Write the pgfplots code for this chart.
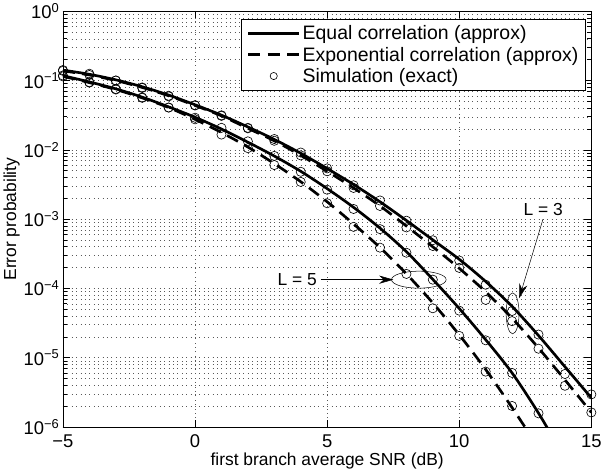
\documentclass[border=0pt]{standalone}
\usepackage{fontspec}
\setmainfont{Liberation Sans}
\usepackage{pgfplots}
\pgfplotsset{compat=1.18}
\usetikzlibrary{arrows.meta}

\begin{document}
\begin{tikzpicture}
\begin{axis}[
  scale only axis,
  width=516pt, height=406pt,
  xmin=-5, xmax=15,
  ymode=log, ymin=1e-6, ymax=1,
  xtick={-5,0,5,10,15},
  xticklabels={−5,0,5,10,15},
  ytick={1e-6,1e-5,1e-4,1e-3,1e-2,1e-1,1},
  yticklabels={10\textsuperscript{−6},10\textsuperscript{−5},10\textsuperscript{−4},10\textsuperscript{−3},10\textsuperscript{−2},10\textsuperscript{−1},10\textsuperscript{0}},
  xmajorgrids, ymajorgrids, yminorgrids,
  major grid style={black!65, line width=0.45pt, dash pattern=on 0.7pt off 3.6pt},
  minor grid style={black!65, line width=0.45pt, dash pattern=on 0.7pt off 3.6pt},
  axis line style={black, line width=0.8pt},
  tick style={black, line width=0.6pt},
  major tick length=7pt, minor tick length=4pt,
  tick label style={font=\fontsize{18}{21}\selectfont},
  xticklabel style={yshift=-4pt},
  label style={font=\fontsize{17}{20}\selectfont},
  xlabel={first branch average SNR (dB)},
  ylabel={Error probability},
  xlabel style={yshift=2pt},
  ylabel style={yshift=-3pt},
  legend cell align=left,
  legend image code/.code={\draw[mark repeat=2,mark phase=2,#1] plot coordinates {(0pt,0pt) (25pt,0pt) (50pt,0pt)};},
  legend style={at={(rel axis cs:0.99,0.981)}, anchor=north east,
    font=\fontsize{19}{22}\selectfont, draw=black, line width=0.8pt,
    fill=white, row sep=1.5pt, inner xsep=5pt, inner ysep=4pt},
]
\addlegendimage{black, line width=2.6pt}
\addlegendentry{Equal correlation (approx)}
\addlegendimage{black, line width=2.6pt, dash pattern=on 12pt off 7pt}
\addlegendentry{Exponential correlation (approx)}
\addlegendimage{black, only marks, mark=o, mark size=3.5pt, mark options={line width=0.6pt}}
\addlegendentry{Simulation (exact)}

% L = 3, equal correlation
\addplot[forget plot, black, line width=2.6pt, smooth] coordinates {
(-5,1.413e-1)(-4,1.230e-1)(-3,1.023e-1)(-2,8.128e-2)(-1,6.166e-2)(0,4.467e-2)(1,3.162e-2)
(2,2.138e-2)(3,1.413e-2)(4,8.913e-3)(5,5.370e-3)(6,3.162e-3)(7,1.778e-3)(8,9.550e-4)
(9,5.012e-4)(10,2.630e-4)(11,1.259e-4)(12,5.495e-5)(13,2.089e-5)(14,7.413e-6)(15,2.630e-6)
};
% L = 3, exponential correlation
\addplot[forget plot, black, line width=2.6pt, dash pattern=on 12pt off 7pt, smooth] coordinates {
(-5,1.380e-1)(-4,1.202e-1)(-3,1.000e-1)(-2,7.943e-2)(-1,6.026e-2)(0,4.365e-2)(1,3.090e-2)
(2,2.042e-2)(3,1.349e-2)(4,8.318e-3)(5,4.898e-3)(6,2.818e-3)(7,1.549e-3)(8,7.943e-4)
(9,3.981e-4)(10,1.950e-4)(11,8.913e-5)(12,3.715e-5)(13,1.380e-5)(14,4.786e-6)(15,1.622e-6)
};
% L = 5, equal correlation
\addplot[forget plot, black, line width=2.6pt, smooth] coordinates {
(-5,1.175e-1)(-4,9.550e-2)(-3,7.586e-2)(-2,5.754e-2)(-1,4.169e-2)(0,2.951e-2)(1,1.995e-2)
(2,1.288e-2)(3,8.128e-3)(4,4.898e-3)(5,2.754e-3)(6,1.479e-3)(7,7.413e-4)(8,3.388e-4)
(9,1.349e-4)(10,5.129e-5)(11,1.820e-5)(12,6.026e-6)(13,1.585e-6)(14,3.548e-7)
};
% L = 5, exponential correlation
\addplot[forget plot, black, line width=2.6pt, dash pattern=on 12pt off 7pt, smooth] coordinates {
(-5,1.148e-1)(-4,9.333e-2)(-3,7.413e-2)(-2,5.623e-2)(-1,4.074e-2)(0,2.754e-2)(1,1.778e-2)
(2,1.096e-2)(3,6.310e-3)(4,3.467e-3)(5,1.778e-3)(6,8.511e-4)(7,3.890e-4)(8,1.622e-4)
(9,6.166e-5)(10,2.138e-5)(11,6.761e-6)(12,1.905e-6)(13,5.012e-7)
};

% simulation points
\addplot[forget plot, black, only marks, mark=o, mark size=4.5pt, mark options={line width=0.6pt}] coordinates {
(-5,1.416e-1)(-4,1.253e-1)(-3,1.000e-1)(-2,7.816e-2)(-1,5.902e-2)(0,4.406e-2)(1,3.148e-2)
(2,2.075e-2)(3,1.432e-2)(4,9.141e-3)(5,5.395e-3)(6,3.076e-3)(7,1.858e-3)(8,9.484e-4)
(9,4.955e-4)(10,2.529e-4)(11,1.130e-4)(12,4.721e-5)(13,2.158e-5)(14,5.821e-6)(15,2.951e-6)
};
\addplot[forget plot, black, only marks, mark=o, mark size=4.5pt, mark options={line width=0.6pt}] coordinates {
(-5,1.380e-1)(-4,1.202e-1)(-3,1.000e-1)(-2,7.943e-2)(-1,6.026e-2)(0,4.365e-2)(1,3.090e-2)
(2,2.042e-2)(3,1.349e-2)(4,8.318e-3)(5,4.898e-3)(6,2.818e-3)(7,1.549e-3)(8,7.586e-4)
(9,4.093e-4)(10,1.977e-4)(11,6.823e-5)(12,3.373e-5)(13,1.349e-5)(14,3.936e-6)(15,1.622e-6)
};
\addplot[forget plot, black, only marks, mark=o, mark size=4.5pt, mark options={line width=0.6pt}] coordinates {
(-5,1.183e-1)(-4,9.462e-2)(-3,7.551e-2)(-2,5.702e-2)(-1,4.074e-2)(0,2.904e-2)(1,2.075e-2)
(2,1.324e-2)(3,8.166e-3)(4,4.819e-3)(5,2.655e-3)(6,1.400e-3)(7,7.161e-4)(8,3.273e-4)
(9,1.337e-4)(10,4.775e-5)(11,1.782e-5)(12,6.026e-6)(13,1.574e-6)
};
\addplot[forget plot, black, only marks, mark=o, mark size=4.5pt, mark options={line width=0.6pt}] coordinates {
(-5,1.148e-1)(-4,9.333e-2)(-3,7.413e-2)(-2,5.623e-2)(-1,4.074e-2)(0,2.754e-2)(1,1.660e-2)
(2,1.057e-2)(3,6.026e-3)(4,3.443e-3)(5,1.694e-3)(6,7.727e-4)(7,3.873e-4)(8,1.618e-4)
(9,5.164e-5)(10,2.065e-5)(11,6.295e-6)(12,2.009e-6)
};

% annotations
\node[font=\fontsize{17}{20}\selectfont] at (axis cs:3.87,1.337e-4) {L = 5};
\draw[line width=0.5pt, -{Stealth[length=14pt,width=8pt]}] (axis cs:4.75,1.337e-4) -- (axis cs:7.51,1.337e-4);
\draw[line width=0.5pt] (axis cs:8.47,1.337e-4) ellipse [x radius=26.7pt, y radius=8.3pt];
\node[font=\fontsize{17}{20}\selectfont] at (axis cs:13.18,1.355e-3) {L = 3};
\draw[line width=0.5pt, -{Stealth[length=14pt,width=8pt]}] (axis cs:13.17,1.0e-3) -- (axis cs:12.27,7.228e-5);
\draw[line width=0.5pt] (axis cs:12.02,4.365e-5) ellipse [x radius=6.3pt, y radius=20pt];
\end{axis}
\end{tikzpicture}
\end{document}
